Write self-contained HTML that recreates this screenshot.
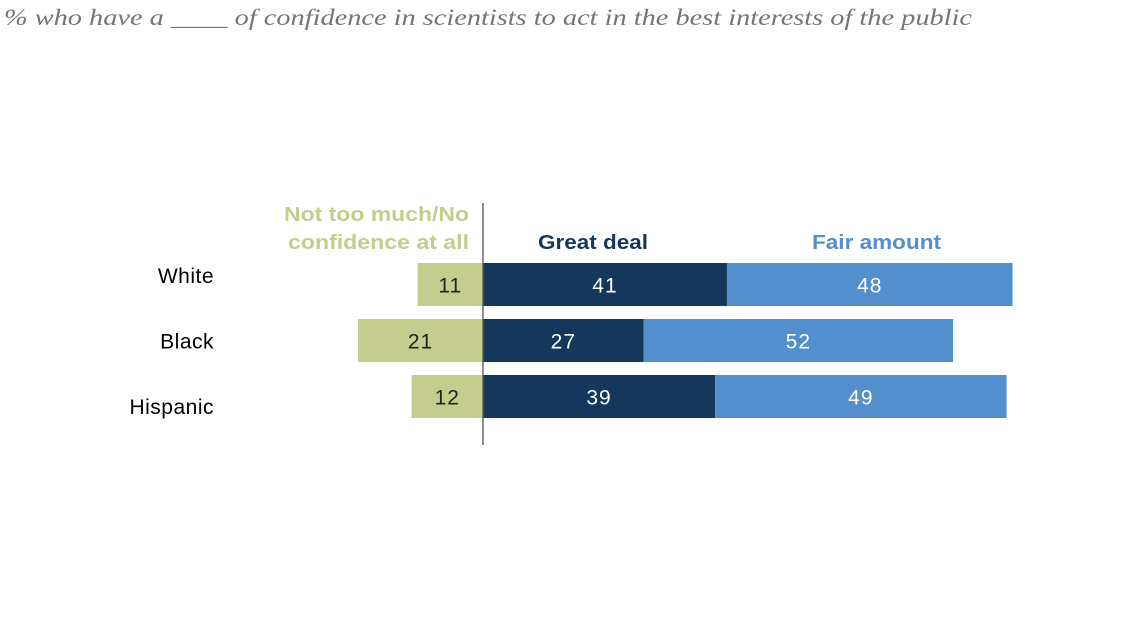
<!DOCTYPE html>
<html><head><meta charset="utf-8"><style>
body{margin:0;background:#fff;width:1128px;height:636px;overflow:hidden}
svg{display:block}
</style></head><body>
<svg id="chart" width="1128" height="636">
<text x="4" y="25" font-family="Liberation Serif, serif" font-style="italic" font-size="23" fill="#757575" textLength="968" lengthAdjust="spacingAndGlyphs">% who have a ____ of confidence in scientists to act in the best interests of the public</text>
<g font-family="Liberation Sans, sans-serif" font-weight="bold" font-size="20">
<text x="284" y="221" textLength="185" lengthAdjust="spacingAndGlyphs" fill="#c4cd8e">Not too much/No</text>
<text x="288" y="249" textLength="181" lengthAdjust="spacingAndGlyphs" fill="#c4cd8e">confidence at all</text>
<text x="538" y="249" textLength="110" lengthAdjust="spacingAndGlyphs" fill="#16375c">Great deal</text>
<text x="812" y="249" textLength="129" lengthAdjust="spacingAndGlyphs" fill="#538fcd">Fair amount</text>
</g>
<g id="bars"></g>
<line x1="483" y1="203" x2="483" y2="445" stroke="#555" stroke-width="1.3"/>
</svg>
<script>
const categories=["White","Black","Hispanic"];
const notMuch=[11,21,12];
const greatDeal=[41,27,39];
const fairAmount=[48,52,49];
const ns="http://www.w3.org/2000/svg";
const g=document.getElementById("bars");
const x0=483,k=5.95,top0=263,pitch=56,h=43;
const xs=v=>v*k;
function rect(x,y,w,fill){const r=document.createElementNS(ns,"rect");r.setAttribute("x",x);r.setAttribute("y",y);r.setAttribute("width",w);r.setAttribute("height",h);r.setAttribute("fill",fill);g.appendChild(r);return r;}
function txt(x,y,s,fill,anchor,size){const t=document.createElementNS(ns,"text");t.setAttribute("x",x);t.setAttribute("y",y);t.setAttribute("fill",fill);t.setAttribute("text-anchor",anchor);t.setAttribute("font-family","Liberation Sans, sans-serif");t.setAttribute("font-size",size);t.setAttribute("letter-spacing","1");t.textContent=s;g.appendChild(t);return t;}
categories.forEach((c,i)=>{
 const y=top0+i*pitch, ty=y+h/2+8;
 const l=txt(214,283+i*65.5,c,"#000","end",21);
 l.setAttribute("letter-spacing","0.5");
 
 
 const a=rect(x0-xs(notMuch[i]),y,xs(notMuch[i]),"#c4cd8e");
 
 
 const at=txt(x0-xs(notMuch[i])/2,ty,notMuch[i],"#222","middle",21);
 
 
 const b=rect(x0,y,xs(greatDeal[i]),"#16375c");
 
 
 const bt=txt(x0+xs(greatDeal[i])/2,ty,greatDeal[i],"#fff","middle",21);
 
 
 const fx=x0+xs(greatDeal[i]);
 const f=rect(fx,y,xs(fairAmount[i]),"#538fcd");
 
 
 const ft=txt(fx+xs(fairAmount[i])/2,ty,fairAmount[i],"#fff","middle",21);
 
 
});
</script>
</body></html>
